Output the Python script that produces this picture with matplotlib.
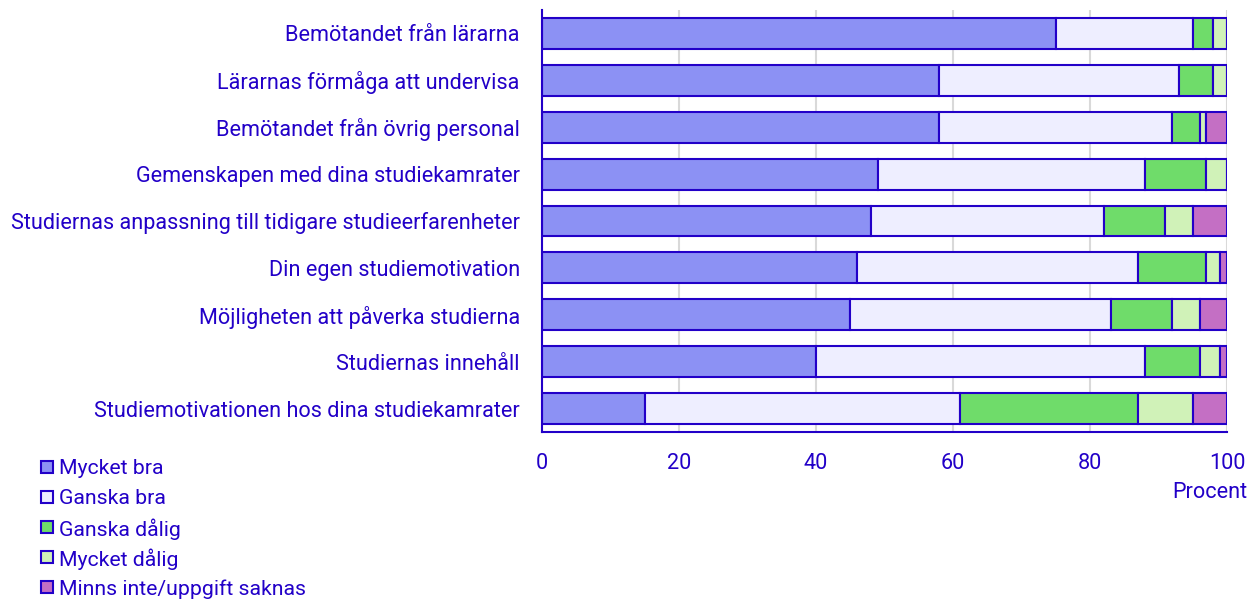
import matplotlib.pyplot as plt
import matplotlib.patches as mpatches
import numpy as np

plt.rcParams['font.family'] = ['Roboto', 'DejaVu Sans']

categories = ['Bemötandet från lärarna',
              'Lärarnas förmåga att undervisa',
              'Bemötandet från övrig personal',
              'Gemenskapen med dina studiekamrater',
              'Studiernas anpassning till tidigare studieerfarenheter',
              'Din egen studiemotivation',
              'Möjligheten att påverka studierna',
              'Studiernas innehåll',
              'Studiemotivationen hos dina studiekamrater']

mycket_bra = [75, 58, 58, 49, 48, 46, 45, 40, 15]
ganska_bra = [20, 35, 34, 39, 34, 41, 38, 48, 46]
ganska_dalig = [3, 5, 4, 9, 9, 10, 9, 8, 26]
mycket_dalig = [2, 2, 1, 3, 4, 2, 4, 3, 8]
minns_inte = [0, 0, 3, 0.3, 5, 1, 4, 1, 5]

series = [('Mycket bra', mycket_bra, '#8c91f4'),
          ('Ganska bra', ganska_bra, '#eeeeff'),
          ('Ganska dålig', ganska_dalig, '#6fdc6a'),
          ('Mycket dålig', mycket_dalig, '#d0f2b8'),
          ('Minns inte/uppgift saknas', minns_inte, '#c46fc4')]

ticks = [0, 20, 40, 60, 80, 100]

navy = '#2200c8'
fs = 15.6
W, H = 1248, 601

fig = plt.figure(figsize=(W / 100, H / 100), dpi=100)
ax = fig.add_axes([542 / W, 1 - 432 / H, 685 / W, 422 / H])

y = np.arange(len(categories))
left = np.zeros(len(categories))
for name, vals, col in series:
    vals = np.array(vals, dtype=float)
    ax.barh(y, vals, left=left, height=0.66, color=col, edgecolor=navy,
            linewidth=1.5, zorder=3)
    left += vals

ax.set_xlim(0, 100)
ax.set_ylim(8.5, -0.5)
ax.set_xticks(ticks)
ax.set_yticks(y)
ax.set_yticklabels(categories)
ax.tick_params(axis='both', length=0, colors=navy, labelsize=fs)
ax.tick_params(axis='y', pad=16)
ax.tick_params(axis='x', pad=15)
ax.grid(axis='x', color='#d9d9d9', linewidth=1.5, zorder=0)
for s in ['top', 'right']:
    ax.spines[s].set_visible(False)
for s in ['left', 'bottom']:
    ax.spines[s].set_color(navy)
    ax.spines[s].set_linewidth(1.5)
    ax.spines[s].set_zorder(4)

fig.text(1247 / W, 1 - 492 / H, 'Procent', ha='right', va='center',
         color=navy, fontsize=fs)

# legend drawn by hand, one row every ~30 px
for i, (name, vals, col) in enumerate(series):
    yc = 467 + 30 * i
    fig.patches.append(mpatches.Rectangle((41 / W, 1 - (yc + 6) / H), 12 / W, 12 / H,
                                          transform=fig.transFigure,
                                          facecolor=col, edgecolor=navy,
                                          linewidth=1.5))
    fig.text(59 / W, 1 - yc / H, name, ha='left', va='center_baseline',
             color=navy, fontsize=15.3)

fig.savefig('out.png', dpi=100)
